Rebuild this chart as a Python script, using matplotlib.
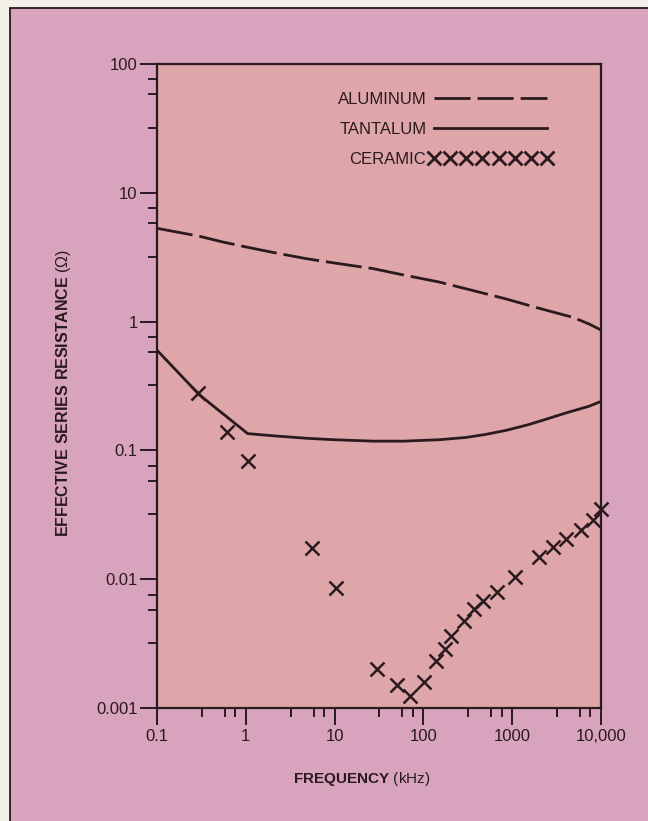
"""
ESR versus frequency for aluminum, tantalum and ceramic capacitors.
"""

import matplotlib.pyplot as plt
from matplotlib.patches import Rectangle
from matplotlib.ticker import FixedLocator, FixedFormatter, LogLocator, NullFormatter

# aluminum electrolytic, frequency in kHz, ESR in ohms
alum_freq = [0.1, 0.3, 0.55, 1, 2, 4.8, 10, 27, 60, 150, 300, 850, 2000, 4800, 7300, 10000]
alum_esr = [5.3, 4.6, 4.15, 3.8, 3.45, 3.08, 2.85, 2.58, 2.3, 2.03, 1.8, 1.5, 1.27, 1.08, 0.96, 0.86]

# tantalum
tant_freq = [0.1, 0.3, 1.05, 2, 5, 10, 27, 60, 150, 300, 500, 850, 1500, 2500, 4000, 7300, 10000]
tant_esr = [0.6, 0.27, 0.135, 0.13, 0.124, 0.121, 0.118, 0.118, 0.121, 0.126, 0.133, 0.143,
            0.158, 0.176, 0.195, 0.22, 0.24]

# ceramic, measured points
cer_freq = [0.29, 0.62, 1.06, 5.5, 10.5, 30, 50, 70, 101, 140, 175, 205, 290, 367, 472, 667,
            1072, 1980, 2890, 4070, 6010, 8200, 10000]
cer_esr = [0.28, 0.14, 0.083, 0.0175, 0.0086, 0.002, 0.00152, 0.00125, 0.0016, 0.0023,
           0.00285, 0.0036, 0.00475, 0.0059, 0.0068, 0.0079, 0.0104, 0.015, 0.0177,
           0.0207, 0.0242, 0.029, 0.035]

x_ticks = [0.1, 1, 10, 100, 1000, 10000]
x_labels = ['0.1', '1', '10', '100', '1000', '10,000']
y_ticks = [0.001, 0.01, 0.1, 1, 10, 100]
y_labels = ['0.001', '0.01', '0.1', '1', '10', '100']

ink = '#2a1a1e'
plt.rcParams['font.family'] = ['Liberation Sans', 'DejaVu Sans']
plt.rcParams['mathtext.fontset'] = 'custom'
plt.rcParams['mathtext.rm'] = 'Liberation Sans'
plt.rcParams['mathtext.bf'] = 'Liberation Sans:bold'
plt.rcParams['lines.scale_dashes'] = False

W, H = 648, 821
fig = plt.figure(figsize=(W / 100, H / 100), dpi=100, facecolor='#f3f0ea')

# pink panel behind the chart, border only on the left and top
fig.patches.append(Rectangle((10 / W, -0.1), 1.2, 1.1 - 8 / H, transform=fig.transFigure,
                             facecolor='#d8a3bd', edgecolor=ink, lw=1.3, zorder=-10))

ax = fig.add_axes([157 / W, 1 - 708 / H, 444 / W, 644 / H])
ax.set_zorder(5)
ax.set_facecolor('#dfa6aa')
ax.set_xscale('log')
ax.set_yscale('log')
ax.set_xlim(0.1, 10000)
ax.set_ylim(0.001, 100)

ax.plot(alum_freq, alum_esr, color=ink, lw=2, dashes=(26, 5), label='ALUMINUM')
ax.plot(tant_freq, tant_esr, color=ink, lw=2, label='TANTALUM')
ax.plot(cer_freq, cer_esr, ls='none', marker='x', color=ink, markersize=10, mew=1.8,
        clip_on=False, label='CERAMIC')

ax.xaxis.set_major_locator(FixedLocator(x_ticks))
ax.xaxis.set_major_formatter(FixedFormatter(x_labels))
ax.yaxis.set_major_locator(FixedLocator(y_ticks))
ax.yaxis.set_major_formatter(FixedFormatter(y_labels))
ax.xaxis.set_minor_locator(LogLocator(base=10, subs=(3.2, 5.8, 7.6), numticks=30))
ax.yaxis.set_minor_locator(LogLocator(base=10, subs=(3.2, 5.8, 7.6), numticks=30))
ax.xaxis.set_minor_formatter(NullFormatter())
ax.yaxis.set_minor_formatter(NullFormatter())

ax.tick_params(which='both', direction='out', color=ink, width=1.4, labelcolor=ink,
               labelsize=12, top=False, right=False)
ax.tick_params(which='major', length=12)
ax.tick_params(which='minor', length=6.5)
ax.tick_params(axis='x', which='major', pad=3)
ax.tick_params(axis='y', which='major', pad=2)
for side in ax.spines.values():
    side.set_color(ink)
    side.set_linewidth(1.6)

ax.set_xlabel(r'$\mathbf{FREQUENCY}$ (kHz)', fontsize=11, color=ink)
ax.xaxis.set_label_coords(0.462, -0.097)
ax.set_ylabel(r'$\mathbf{EFFECTIVE\ SERIES\ RESISTANCE}$ (Ω)', fontsize=11.5, color=ink)
ax.yaxis.set_label_coords(-0.19, 0.49)

leg = ax.legend(loc='upper right', bbox_to_anchor=(0.89, 0.957), markerfirst=False,
                frameon=False, fontsize=12, handlelength=7.4, handletextpad=0.15,
                numpoints=8, labelspacing=0.9, borderpad=0, borderaxespad=0)
for t in leg.get_texts():
    t.set_color(ink)
leg.legend_handles[2].set_markersize(9.5)
leg.legend_handles[2].set_markeredgewidth(2.0)

fig.savefig('out.png', dpi=100, facecolor=fig.get_facecolor())
